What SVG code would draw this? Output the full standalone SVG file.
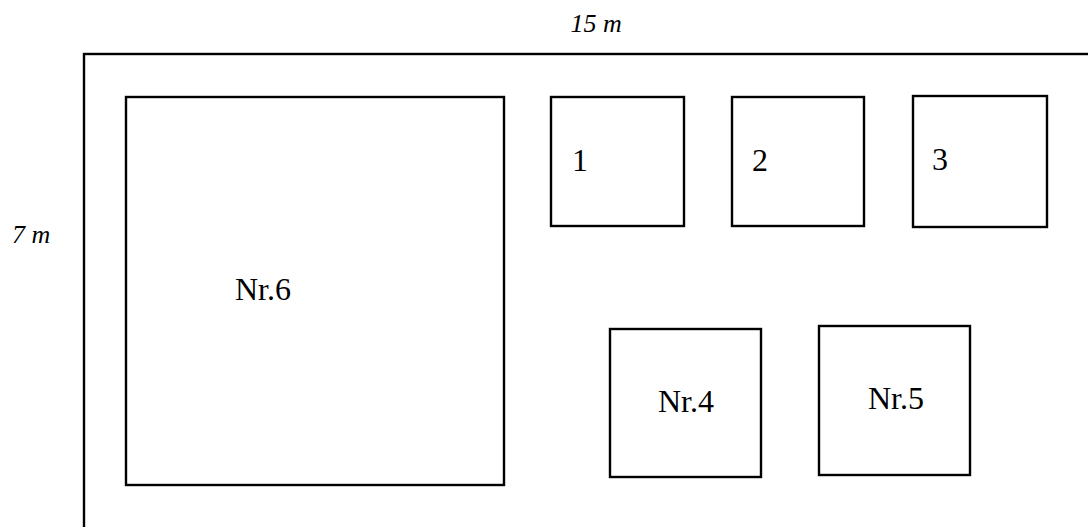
<svg xmlns="http://www.w3.org/2000/svg" width="1088" height="527" viewBox="0 0 1088 527">
<style>
.box{fill:none;stroke:#000;stroke-width:2.4}
.lbl{font-family:"Liberation Serif","Times New Roman",serif;font-size:32px;fill:#000}
.dim{font-family:"Liberation Serif","Times New Roman",serif;font-size:26px;font-style:italic;fill:#000}
</style>
<rect width="1088" height="527" fill="#fff"/>
<g id="frame">
<rect class="box" x="84" y="54" width="1100" height="600"/>
</g>
<g id="dim-width"><text class="dim" x="570.5" y="32.3">15 m</text></g>
<g id="dim-height"><text class="dim" x="12" y="242.7">7 m</text></g>
<g id="nr6">
<rect class="box" x="126" y="97" width="378" height="388"/>
<text class="lbl" x="235" y="300">Nr.6</text>
</g>
<g id="b1">
<rect class="box" x="551" y="97" width="133" height="129"/>
<text class="lbl" x="572" y="171">1</text>
</g>
<g id="b2">
<rect class="box" x="732" y="97" width="132" height="129"/>
<text class="lbl" x="752" y="171">2</text>
</g>
<g id="b3">
<rect class="box" x="913" y="96" width="134" height="131"/>
<text class="lbl" x="932" y="170">3</text>
</g>
<g id="nr4">
<rect class="box" x="610" y="329" width="151" height="148"/>
<text class="lbl" x="658" y="411.7">Nr.4</text>
</g>
<g id="nr5">
<rect class="box" x="819" y="326" width="151" height="149"/>
<text class="lbl" x="868" y="409.3">Nr.5</text>
</g>
<g id="connectors"/>
</svg>
